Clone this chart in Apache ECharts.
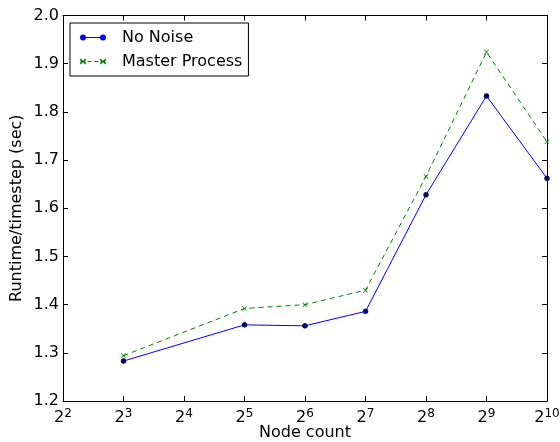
<!DOCTYPE html>
<html>
<head>
<meta charset="utf-8">
<script src="https://cdn.jsdelivr.net/npm/echarts@6/dist/echarts.min.js"></script>
<style>
  html, body { margin: 0; padding: 0; background: #fff; }
  #chart { width: 560px; height: 442px; }
</style>
</head>
<body>
<div id="chart"></div>
<script>
// Runtime per timestep against node count (log2 scale)
const nodeCounts = [8, 32, 64, 128, 256, 512, 1024];
const noNoise = [1.283, 1.358, 1.356, 1.386, 1.628, 1.833, 1.662];
const masterProcess = [1.294, 1.392, 1.400, 1.430, 1.666, 1.924, 1.738];
const seriesNames = ['No Noise', 'Master Process'];
const yTicks = { min: 1.2, max: 2.0, step: 0.1 };
const xRange = { min: 4, max: 1024 };

const FONT = 'DejaVu Sans';
const FS = 16;
const crossPath = 'path://M0,1L1,0L5,4L9,0L10,1L6,5L10,9L9,10L5,6L1,10L0,9L4,5Z';

// Legend handles: a short line segment with a marker at each end
function dot(cx) {
  return 'M' + (cx - 3) + ',3A3,3 0 1 1 ' + (cx + 3) + ',3A3,3 0 1 1 ' + (cx - 3) + ',3Z';
}
function cross(cx) {
  const l = cx - 3, r = cx + 3;
  return 'M' + l + ',0.7L' + (l + 0.7) + ',0L' + cx + ',2.3L' + (r - 0.7) + ',0L' + r + ',0.7L' +
    (cx + 2.3) + ',3L' + r + ',5.3L' + (r - 0.7) + ',6L' + cx + ',3.7L' + (l + 0.7) + ',6L' +
    l + ',5.3L' + (cx - 2.3) + ',3Z';
}
function bar(x0, x1) {
  return 'M' + x0 + ',2.5L' + x1 + ',2.5L' + x1 + ',3.5L' + x0 + ',3.5Z';
}
const solidIcon = 'path://' + dot(3) + bar(3, 23) + dot(23);
const dashedIcon = 'path://' + cross(3) + bar(7.5, 11.5) + bar(14.5, 18.5) + cross(23);

function powLabel(v) {
  const e = Math.round(Math.log2(v));
  return '{b|2}{s|' + e + '}';
}

const chart = echarts.init(document.getElementById('chart'), null, { renderer: 'canvas' });

const axisLine = { show: true, lineStyle: { color: '#000', width: 1 } };
const tick = { show: true, inside: true, length: 5, lineStyle: { color: '#000', width: 1 } };

chart.setOption({
  animation: false,
  backgroundColor: '#fff',
  textStyle: { fontFamily: FONT },
  grid: { left: 63, right: 13, top: 15.5, bottom: 41, containLabel: false, outerBoundsMode: 'none' },
  legend: {
    left: 70, top: 23,
    orient: 'vertical',
    backgroundColor: '#fff',
    borderColor: '#000', borderWidth: 1, borderRadius: 0,
    padding: [5, 6, 5, 10],
    itemWidth: 26, itemHeight: 6, itemGap: 5,
    symbolKeepAspect: false,
    textStyle: { fontFamily: FONT, fontSize: FS, color: '#000', padding: [0, 0, 0, 11], lineHeight: 19 },
    data: [
      { name: seriesNames[0], icon: solidIcon, itemStyle: { color: '#0000ff', borderWidth: 0 } },
      { name: seriesNames[1], icon: dashedIcon, itemStyle: { color: '#008000', borderWidth: 0 } }
    ]
  },
  xAxis: [
    {
      type: 'log', logBase: 2, min: xRange.min, max: xRange.max,
      splitNumber: 8, interval: 1,
      name: 'Node count', nameLocation: 'middle', nameGap: 24, nameMoveOverlap: false,
      nameTextStyle: { fontFamily: FONT, fontSize: FS, color: '#000' },
      axisLine: axisLine, axisTick: tick, splitLine: { show: false },
      minorTick: { show: false },
      axisLabel: {
        margin: 3, color: '#000',
        formatter: powLabel,
        rich: {
          b: { fontFamily: FONT, fontSize: FS, color: '#000', padding: [6, 0, 0, 0] },
          s: { fontFamily: FONT, fontSize: 12, color: '#000', padding: [0, 0, 3, 0] }
        }
      }
    },
    {
      type: 'log', logBase: 2, min: xRange.min, max: xRange.max,
      splitNumber: 8, interval: 1, position: 'top',
      axisLine: axisLine, axisTick: tick, axisLabel: { show: false },
      splitLine: { show: false }, minorTick: { show: false }
    }
  ],
  yAxis: [
    {
      type: 'value', min: yTicks.min, max: yTicks.max, interval: yTicks.step,
      name: 'Runtime/timestep (sec)', nameLocation: 'middle', nameGap: 38, nameMoveOverlap: false,
      nameTextStyle: { fontFamily: FONT, fontSize: FS, color: '#000' },
      axisLine: axisLine, axisTick: tick, splitLine: { show: false },
      axisLabel: {
        margin: 4, color: '#000', fontFamily: FONT, fontSize: FS,
        formatter: v => v.toFixed(1)
      }
    },
    {
      type: 'value', min: yTicks.min, max: yTicks.max, interval: yTicks.step,
      position: 'right',
      axisLine: axisLine, axisTick: tick, axisLabel: { show: false },
      splitLine: { show: false }
    }
  ],
  series: [
    {
      name: seriesNames[0], type: 'line',
      data: nodeCounts.map((n, i) => [n, noNoise[i]]),
      symbol: 'circle', symbolSize: 5, showAllSymbol: true,
      lineStyle: { color: '#0000ff', width: 1 },
      itemStyle: { color: '#000080', borderColor: '#000', borderWidth: 0.5 },
      emphasis: { disabled: true }
    },
    {
      name: seriesNames[1], type: 'line',
      data: nodeCounts.map((n, i) => [n, masterProcess[i]]),
      symbol: crossPath, symbolSize: 5, showAllSymbol: true,
      lineStyle: { color: '#008000', width: 1, type: [5, 4] },
      itemStyle: { color: '#008000' },
      emphasis: { disabled: true }
    }
  ]
});
</script>
</body>
</html>
